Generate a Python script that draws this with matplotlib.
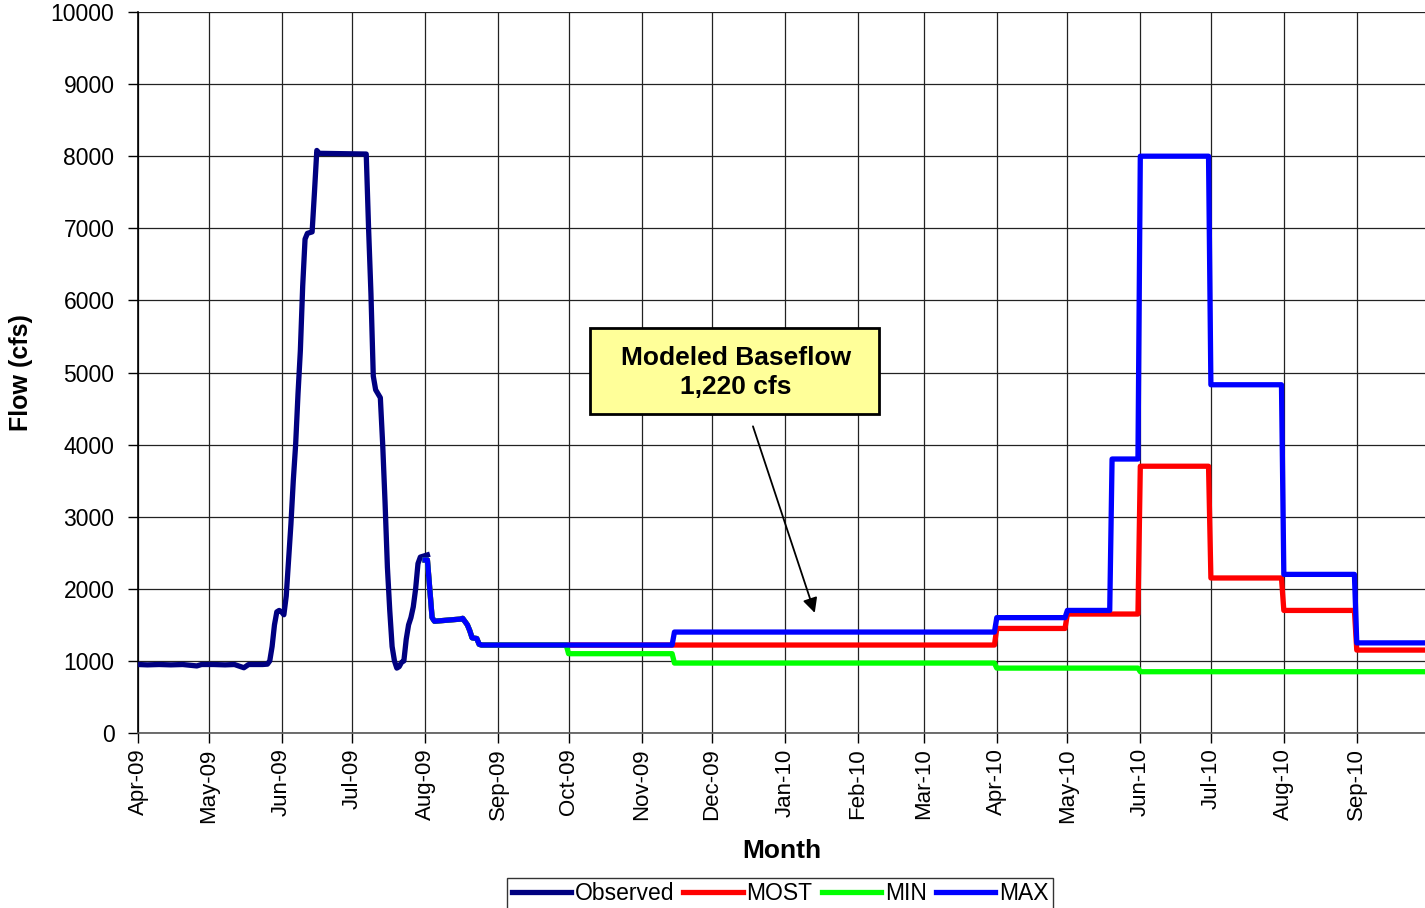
import numpy as np
import pandas as pd
import matplotlib
matplotlib.use("Agg")
import matplotlib.pyplot as plt
import matplotlib.dates as mdates
from matplotlib.patches import Rectangle

plt.rcParams['font.family'] = ['Liberation Sans', 'DejaVu Sans']

# observed daily flow, spring-summer 2009 (cfs)
obs_dates = ['2009-04-01', '2009-04-05', '2009-04-10', '2009-04-15', '2009-04-20',
             '2009-04-26', '2009-04-28', '2009-05-03', '2009-05-08', '2009-05-12',
             '2009-05-16', '2009-05-18', '2009-05-24', '2009-05-26', '2009-05-27',
             '2009-05-28', '2009-05-29', '2009-05-30', '2009-05-31', '2009-06-01',
             '2009-06-02', '2009-06-03', '2009-06-04', '2009-06-05', '2009-06-06',
             '2009-06-07', '2009-06-08', '2009-06-09', '2009-06-10', '2009-06-11',
             '2009-06-12', '2009-06-14', '2009-06-15', '2009-06-16', '2009-06-17',
             '2009-07-07', '2009-07-08', '2009-07-09', '2009-07-10', '2009-07-11',
             '2009-07-13', '2009-07-14', '2009-07-15', '2009-07-16', '2009-07-17',
             '2009-07-18', '2009-07-19', '2009-07-20', '2009-07-21', '2009-07-22',
             '2009-07-23', '2009-07-24', '2009-07-25', '2009-07-26', '2009-07-27',
             '2009-07-28', '2009-07-29', '2009-07-30', '2009-08-01', '2009-08-02']
obs_flow = [950, 945, 950, 945, 950,
            930, 950, 950, 945, 950,
            905, 950, 950, 955, 1000,
            1200, 1500, 1680, 1700, 1680,
            1640, 1900, 2400, 2900, 3500,
            4000, 4700, 5300, 6200, 6850,
            6930, 6950, 7500, 8080, 8040,
            8030, 7000, 6100, 4950, 4760,
            4650, 4000, 3200, 2300, 1700,
            1200, 1000, 900, 920, 980,
            1000, 1300, 1500, 1600, 1750,
            2000, 2350, 2440, 2460, 2470]

# recession shared by all scenarios, Aug 2009
rec_dates = ['2009-08-01', '2009-08-02', '2009-08-03', '2009-08-04', '2009-08-05',
             '2009-08-16', '2009-08-17', '2009-08-19', '2009-08-20', '2009-08-21',
             '2009-08-23', '2009-08-24', '2009-08-25']
rec_flow = [2400, 2400, 2000, 1600, 1550,
            1580, 1590, 1500, 1420, 1320,
            1310, 1230, 1220]

# scenario release schedules: period start and flow
most_starts = ['2009-08-26', '2010-04-01', '2010-05-01', '2010-06-01',
               '2010-07-01', '2010-08-01', '2010-09-01']
most_flow = [1220, 1450, 1650, 3700, 2150, 1700, 1150]

min_starts = ['2009-08-26', '2009-10-01', '2009-11-15', '2010-04-01', '2010-06-01']
min_flow = [1220, 1100, 970, 900, 850]

max_starts = ['2009-08-26', '2009-11-15', '2010-04-01', '2010-05-01', '2010-05-20',
              '2010-06-01', '2010-07-01', '2010-08-01', '2010-09-01']
max_flow = [1220, 1400, 1600, 1700, 3800, 8000, 4830, 2200, 1250]

END = pd.Timestamp('2010-10-01')
month_ticks = pd.date_range('2009-04-01', '2010-09-01', freq='MS')
LW = 3.8


def scenario(starts, flows):
    xs = list(pd.to_datetime(rec_dates))
    ys = list(rec_flow)
    st = list(pd.to_datetime(starts))
    for s, e, v in zip(st, st[1:] + [END], flows):
        xs += [s, e - pd.Timedelta(days=1)]
        ys += [v, v]
    return xs, ys


fig = plt.figure(figsize=(14.25, 9.08), dpi=100)
ax = fig.add_axes([138 / 1425, 175 / 908, 1 - 138 / 1425, 721 / 908])

ax.plot(pd.to_datetime(obs_dates), obs_flow, color='#000080', lw=LW,
        label='Observed', solid_joinstyle='round', zorder=3)
x, y = scenario(most_starts, most_flow)
ax.plot(x, y, color='#ff0000', lw=LW, label='MOST', zorder=3)
x, y = scenario(min_starts, min_flow)
ax.plot(x, y, color='#00ff00', lw=LW, label='MIN', zorder=3)
x, y = scenario(max_starts, max_flow)
ax.plot(x, y, color='#0000ff', lw=LW, label='MAX', zorder=3)

ax.set_xlim(pd.Timestamp('2009-04-01'), pd.Timestamp('2010-09-30'))
ax.set_ylim(0, 10000)
ax.set_yticks(np.arange(0, 10001, 1000))
ax.set_xticks(month_ticks)
ax.xaxis.set_major_formatter(mdates.DateFormatter('%b-%y'))
ax.tick_params(axis='x', labelrotation=90, labelsize=16, length=7, pad=4, width=1)
ax.tick_params(axis='y', labelsize=16.5, length=7, pad=10, width=1)
ax.grid(True, color='#222222', lw=0.9)
ax.set_axisbelow(True)
for side in ['top', 'right']:
    ax.spines[side].set_visible(False)
ax.spines['left'].set_linewidth(1.2)
ax.spines['bottom'].set_color('#555555')
ax.spines['bottom'].set_linewidth(1.2)

ax.set_xlabel('Month', fontsize=19, fontweight='bold', labelpad=12)
ax.set_ylabel('Flow (cfs)', fontsize=18, fontweight='bold', labelpad=13)

# callout for the modeled baseflow
box = Rectangle((mdates.date2num(pd.Timestamp('2009-10-10')), 4424),
                mdates.date2num(pd.Timestamp('2010-02-10')) - mdates.date2num(pd.Timestamp('2009-10-10')),
                1193, facecolor='#ffff99', edgecolor='black', lw=2, zorder=5)
ax.add_patch(box)
ax.text(pd.Timestamp('2009-12-11'), 5000, 'Modeled Baseflow\n1,220 cfs', ha='center',
        va='center', fontsize=19, fontweight='bold', linespacing=1.3, zorder=6)
ax.annotate('', xy=(pd.Timestamp('2010-01-14'), 1630), xytext=(pd.Timestamp('2009-12-18'), 4290),
            arrowprops=dict(arrowstyle='-|>', color='black', lw=1.3, mutation_scale=22),
            zorder=6)

leg = fig.legend(loc='lower center', bbox_to_anchor=(780 / 1425, -0.002), ncol=4,
                 fontsize=16.5, frameon=True, fancybox=False, handlelength=2.6,
                 handletextpad=0.15, columnspacing=0.4, borderpad=0.2,
                 borderaxespad=0.0)
leg.get_frame().set_edgecolor('black')
leg.get_frame().set_linewidth(1.0)

fig.savefig('out.png', dpi=100)
